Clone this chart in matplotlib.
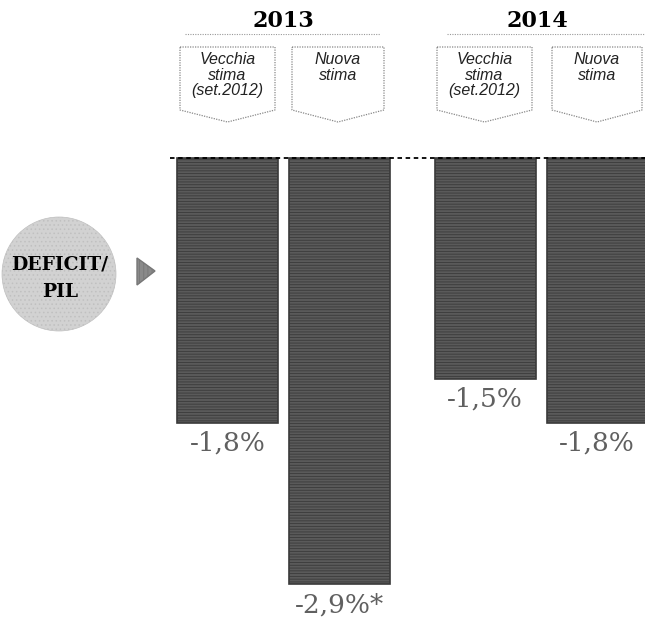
import matplotlib
matplotlib.use("Agg")
import matplotlib.pyplot as plt
from matplotlib.patches import Circle, Polygon

# data
years = ["2013", "2014"]
estimates = ["Vecchia\nstima\n(set.2012)", "Nuova\nstima"]
values = [-1.8, -2.9, -1.5, -1.8]
value_labels = ["-1,8%", "-2,9%*", "-1,5%", "-1,8%"]
indicator = "DEFICIT/\nPIL"

W, H = 645, 626
fig = plt.figure(figsize=(W / 100, H / 100), dpi=100)

# bars axis: positions of the four bars (two groups)
pos = [0, 1, 2.3, 3.3]
px_per_unit_x = 112.0
x0_px = 227.5
ax = fig.add_axes([0, 0, 1, 1])
ax.set_xlim(-x0_px / px_per_unit_x, (W - x0_px) / px_per_unit_x)
top_px, px_per_unit_y = 158.0, 147.0
ax.set_ylim(-(H - top_px) / px_per_unit_y, top_px / px_per_unit_y)
ax.axis("off")

plt.rcParams["hatch.color"] = "#9a9a9a"
plt.rcParams["hatch.linewidth"] = 0.6
bars = ax.bar(pos, values, width=0.9, color="#5a5a5a", hatch="------",
              edgecolor="#3a3a3a", linewidth=1.2, zorder=2)
ax.axhline(0, xmin=(170 / W), xmax=1, color="black", linestyle=(0, (2.5, 2)),
           linewidth=1.3, zorder=3)

for b, v, lab in zip(bars, values, value_labels):
    ax.annotate(lab, (b.get_x() + b.get_width() / 2, v), xytext=(0, -6),
                textcoords="offset points", ha="center", va="top",
                fontsize=19, color="#606060", family="DejaVu Serif")

# decorations in pixel coords
ov = fig.add_axes([0, 0, 1, 1], facecolor="none")
ov.set_xlim(0, W)
ov.set_ylim(H, 0)
ov.axis("off")

# year headers with dotted rules
for yr, (xa, xb), xc in zip(years, [(185, 380), (447, 645)], [283, 537]):
    ov.plot([xa, xb], [34, 34], color="#999999", linestyle=(0, (1, 1.2)),
            linewidth=0.8, zorder=0)
    ov.text(xc, 21, yr, ha="center", va="center", fontsize=16, fontweight="bold",
            family="DejaVu Serif", color="black",
            bbox=dict(facecolor="white", edgecolor="none", pad=1.5), zorder=2)

# pointed label boxes
box_x = [(180, 275), (292, 384), (437, 532), (552, 642)]
for i, (xa, xb) in enumerate(box_x):
    xm = (xa + xb) / 2
    shape = Polygon([(xa, 47), (xb, 47), (xb, 110), (xm, 122), (xa, 110)],
                    closed=True, facecolor="white", edgecolor="#888888",
                    linestyle=(0, (1, 1)), linewidth=0.9)
    ov.add_patch(shape)
    ov.text(xm, 52, estimates[i % 2], ha="center", va="top", fontsize=11.5,
            style="italic", family="Liberation Sans", color="#222222",
            linespacing=1.05)

# indicator circle and arrow
ov.add_patch(Circle((59, 274), 57, facecolor="#d2d2d2", edgecolor="#c0c0c0",
                    hatch="....", linewidth=0.5))
ov.text(60, 278, indicator, ha="center", va="center", fontsize=13.5,
        fontweight="bold", family="DejaVu Serif", linespacing=1.7)
ov.add_patch(Polygon([(137, 258), (155, 271), (137, 285)], closed=True,
                     facecolor="#8a8a8a", edgecolor="#777777", hatch="||||"))

fig.savefig("out.png", dpi=100)
